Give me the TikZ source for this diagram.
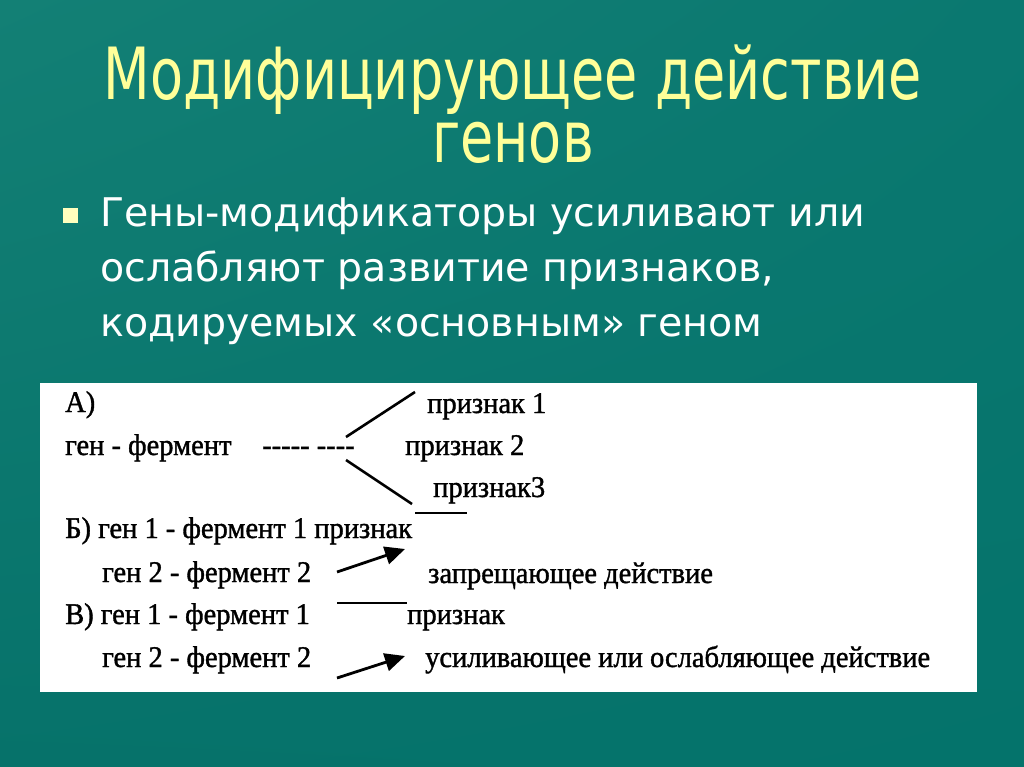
\documentclass[tikz,border=0pt]{standalone}
\usepackage{fontspec}
\setmainfont{Liberation Serif}
\newfontfamily\slidefont{DejaVu Sans}
\newfontfamily\titlefont[FakeStretch=0.75]{DejaVu Sans}
\newfontfamily\scanfont[FakeStretch=0.95, FakeBold=1.2]{Liberation Serif}
\usetikzlibrary{positioning, calc, arrows.meta, shadings}
\definecolor{tealUL}{RGB}{19, 128, 117}
\definecolor{tealUR}{RGB}{10, 120, 112}
\definecolor{tealLL}{RGB}{6, 114, 106}
\definecolor{tealLR}{RGB}{4, 115, 107}
\definecolor{titleyellow}{RGB}{255, 255, 153}
\definecolor{bulletyellow}{RGB}{255, 255, 190}
\tikzset{
    titletext/.style={
        font=\titlefont\fontsize{72}{63}\selectfont, text=titleyellow, align=center, anchor=north, inner sep=0pt
    },
    bullettext/.style={
        font=\slidefont\fontsize{39.5}{46}\selectfont, text=white, anchor=base west, inner sep=0pt
    },
    scantext/.style={
        font=\scanfont\fontsize{30}{32}\selectfont, text=black, anchor=base west, inner sep=0pt
    },
    scanline/.style={
        line width=2.6pt, black
    },
    scanarrow/.style={
        -{Triangle[length=20pt, width=18pt]}, line width=2.8pt, black
    }
}

\begin{document}
\begin{tikzpicture}[x=1pt, y=-1pt]

        % --- 1. NỀN ---
        \useasboundingbox (0,0) rectangle (1024,767);
        \shade[upper left=tealUL, upper right=tealUR, lower left=tealLL, lower right=tealLR] (0,0) rectangle (1024,767);

        % --- 2. TIÊU ĐỀ ---
        \node[titletext] (title) at (513,45) {Модифицирующее действие\\генов};

        % --- 3. ĐOẠN VĂN ---
        \node[fill=bulletyellow, minimum size=15pt, inner sep=0pt] (bullet) at (70,216) {};
        \node[bullettext] (line1) at (100,226) {Гены-модификаторы усиливают или};
        \node[bullettext] (line2) at ($(line1.base west)+(0,55)$) {ослабляют развитие признаков,};
        \node[bullettext] (line3) at ($(line2.base west)+(0,55)$) {кодируемых «основным» геном};

        % --- 4. HÌNH QUÉT ---
        \fill[white] (40,383) rectangle (977,692);

        % A)
        \node[scantext] (labA) at (65,412) {А)};
        \node[scantext] (genA) at (65,455) {ген - фермент};
        \node[scantext] (dashA) at (262,455) {----- ----};
        \node[scantext] (sign1) at (427,413) {признак 1};
        \node[scantext] (sign2) at (405,455) {признак 2};
        \node[scantext] (sign3) at (433,497) {признак3};
        \coordinate (forkUp) at (346,437);
        \coordinate (forkDown) at (346,460);
        \coordinate (endUp) at (415,392);
        \coordinate (endDown) at (412,504);
        \draw[scanline] (forkUp) -- (endUp);
        \draw[scanline] (forkDown) -- (endDown);
        \draw[scanline] (415,513) -- (467,513);

        % Б)
        \node[scantext] (genB1) at (65,538) {Б) ген 1 - фермент 1 признак};
        \node[scantext] (genB2) at (102,582) {ген 2 - фермент 2};
        \node[scantext] (banB) at (428,583) {запрещающее действие};
        \coordinate (arrB) at (337,572);
        \coordinate (tipB) at (405,549);
        \draw[scanarrow] (arrB) -- (tipB);

        % В)
        \node[scantext] (genV1) at (65,624) {В) ген 1 - фермент 1};
        \node[scantext] (signV) at (407,624) {признак};
        \node[scantext] (genV2) at (102,667) {ген 2 - фермент 2};
        \node[scantext] (modV) at (425,667) {усиливающее или ослабляющее действие};
        \coordinate (lineV) at (337,603);
        \draw[line width=1.4pt] (lineV) -- (signV.north west |- lineV);
        \coordinate (arrV) at (337,678);
        \coordinate (tipV) at (405,656);
        \draw[scanarrow] (arrV) -- (tipV);

    \end{tikzpicture}
\end{document}
